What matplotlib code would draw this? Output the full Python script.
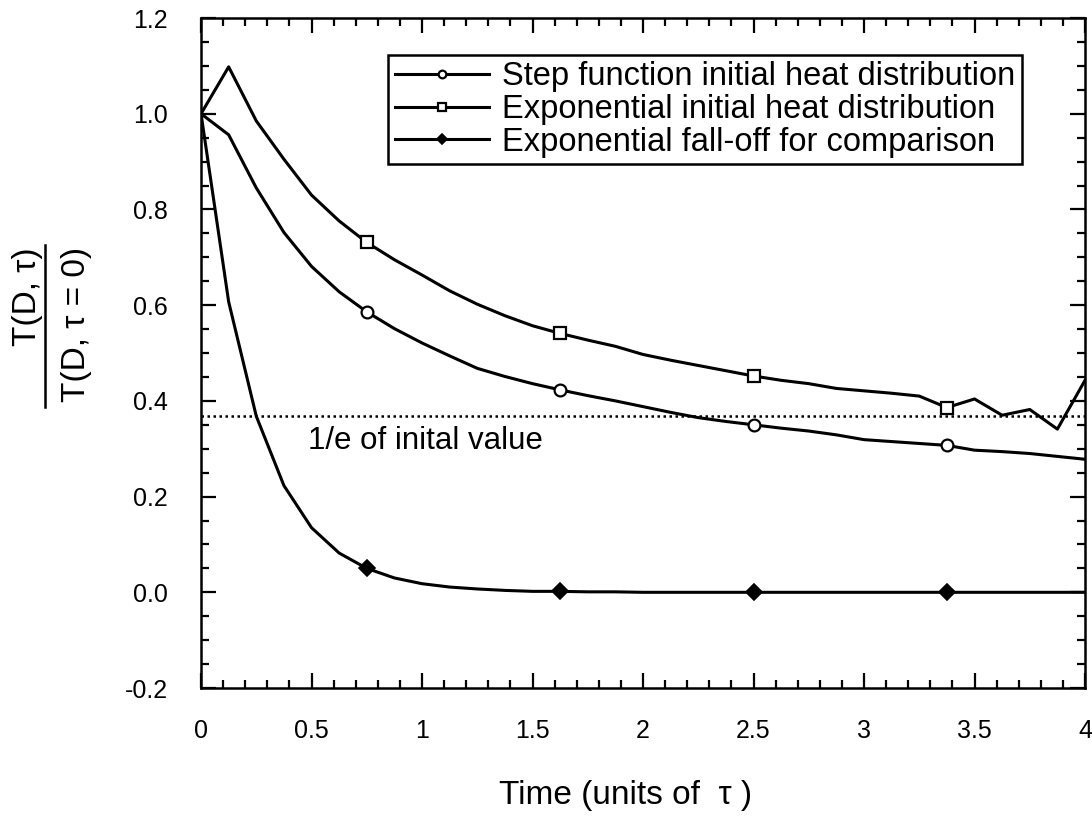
import matplotlib
matplotlib.use("Agg")
import matplotlib.pyplot as plt
from matplotlib.ticker import MultipleLocator, FormatStrFormatter
from matplotlib.lines import Line2D

plt.rcParams['font.family'] = ['Liberation Sans', 'DejaVu Sans']
plt.rcParams['axes.unicode_minus'] = False

# time in units of tau
t = [0.0, 0.125, 0.25, 0.375, 0.5, 0.625, 0.75, 0.875, 1.0, 1.125, 1.25,
     1.375, 1.5, 1.625, 1.75, 1.875, 2.0, 2.125, 2.25, 2.375, 2.5, 2.625,
     2.75, 2.875, 3.0, 3.125, 3.25, 3.375, 3.5, 3.625, 3.75, 3.875, 4.0]

step_fn = [1.000, 0.956, 0.845, 0.752, 0.681, 0.628, 0.586, 0.551, 0.521,
           0.494, 0.468, 0.451, 0.436, 0.423, 0.411, 0.400, 0.388, 0.376,
           0.365, 0.357, 0.350, 0.343, 0.337, 0.329, 0.319, 0.315, 0.311,
           0.307, 0.297, 0.294, 0.290, 0.284, 0.278]

exp_init = [1.000, 1.098, 0.985, 0.905, 0.830, 0.776, 0.731, 0.695, 0.663,
            0.630, 0.602, 0.578, 0.557, 0.541, 0.527, 0.514, 0.497, 0.485,
            0.474, 0.463, 0.452, 0.443, 0.436, 0.426, 0.421, 0.416, 0.410,
            0.386, 0.404, 0.370, 0.382, 0.341, 0.443]

fall_off = [1.000, 0.607, 0.368, 0.223, 0.135, 0.082, 0.050, 0.030, 0.018,
            0.011, 0.007, 0.004, 0.002, 0.002, 0.001, 0.001, 0.0, 0.0, 0.0,
            0.0, 0.0, 0.0, 0.0, 0.0, 0.0, 0.0, 0.0, 0.0, 0.0, 0.0, 0.0, 0.0, 0.0]

one_over_e = 0.368

fig = plt.figure(figsize=(10.92, 8.23), dpi=100)
ax = fig.add_axes([0.1841, 0.164, 0.8095, 0.8141])

lw = 2.2
ax.plot(t, step_fn, color='black', lw=lw, marker='o', ms=8.5, mew=1.6,
        mfc='white', markevery=(6, 7), label="Step function initial heat distribution")
ax.plot(t, exp_init, color='black', lw=lw, marker='s', ms=8.5, mew=1.6,
        mfc='white', markevery=(6, 7), label="Exponential initial heat distribution")
ax.plot(t, fall_off, color='black', lw=lw, marker='D', ms=8, mew=1.2,
        mfc='black', markevery=(6, 7), label="Exponential fall-off for comparison")

ax.axhline(one_over_e, color='black', lw=1.8, ls=(0, (1, 1.4)))
ax.text(0.485, 0.30, "1/e of inital value", fontsize=22.5, va='baseline')

ax.set_xlim(0, 4)
ax.set_ylim(-0.2, 1.2)
ax.xaxis.set_major_locator(MultipleLocator(0.5))
ax.xaxis.set_minor_locator(MultipleLocator(0.1))
ax.yaxis.set_major_locator(MultipleLocator(0.2))
ax.yaxis.set_minor_locator(MultipleLocator(0.05))
ax.xaxis.set_major_formatter(FormatStrFormatter('%g'))
ax.yaxis.set_major_formatter(FormatStrFormatter('%.1f'))

ax.tick_params(which='both', direction='in', top=True, right=True, width=1.6)
ax.tick_params(which='major', length=11, labelsize=18)
ax.tick_params(which='minor', length=5.5)
ax.tick_params(axis='x', which='major', pad=22)
ax.tick_params(axis='y', which='major', pad=24)
for sp in ax.spines.values():
    sp.set_linewidth(1.8)

ax.set_xlabel("Time (units of  \u03c4 )", fontsize=24)
ax.xaxis.label.set_va('center')
ax.xaxis.set_label_coords(0.48, -0.16)

leg = ax.legend(loc='upper left', bbox_to_anchor=(0.2115, 0.945), borderaxespad=0,
                fontsize=23.5, frameon=True, fancybox=False, framealpha=1,
                edgecolor='black', handlelength=2.9, handletextpad=0.4,
                labelspacing=0.05, borderpad=0.2, markerscale=0.65)
leg.get_frame().set_linewidth(1.8)

# y label drawn as a stacked fraction
fig.text(0.0256, 0.700, "T(D, \u03c4)", rotation=90, ha='center', va='top', fontsize=24)
fig.text(0.0705, 0.700, "T(D, \u03c4 = 0)", rotation=90, ha='center', va='top', fontsize=24)
fig.add_artist(Line2D([0.0412, 0.0412], [0.5055, 0.702], color='black', lw=1.8,
                      transform=fig.transFigure))

plt.savefig("out.png", dpi=100)
